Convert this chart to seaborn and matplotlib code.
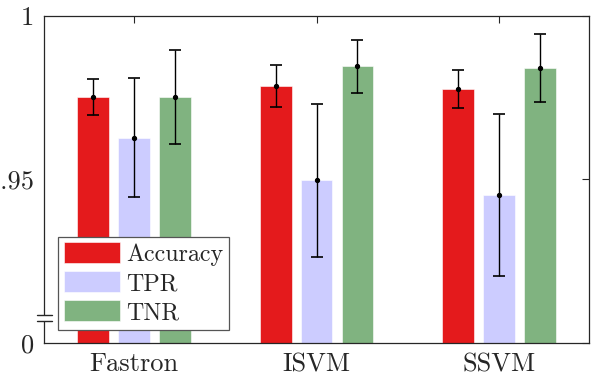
import numpy as np
import pandas as pd
import matplotlib
matplotlib.use("Agg")
import matplotlib.pyplot as plt
import seaborn as sns

models = ["Fastron", "ISVM", "SSVM"]
metrics = ["Accuracy", "TPR", "TNR"]
accuracy = [0.9752, 0.9786, 0.9778]
tpr = [0.9628, 0.9497, 0.9452]
tnr = [0.9752, 0.9846, 0.9841]
accuracy_err = [0.0055, 0.0063, 0.0058]
tpr_err = [0.0183, 0.0235, 0.0247]
tnr_err = [0.0143, 0.0080, 0.0104]
ytick_vals = [0.90, 0.95, 1.0]
ytick_labels = ["0", "0.95", "1"]

colors = ["#E41A1C", "#CCCCFF", "#80B380"]

df = pd.DataFrame({
    "model": models * 3,
    "metric": np.repeat(metrics, 3),
    "value": accuracy + tpr + tnr,
    "err": accuracy_err + tpr_err + tnr_err,
})

sns.set_style("white")
plt.rcParams["font.family"] = ["cmr10", "DejaVu Serif"]
plt.rcParams["axes.formatter.use_mathtext"] = True

fig = plt.figure(figsize=(5.98, 3.79), dpi=100)
ax = fig.add_axes([0.0736, 0.095, 0.9114, 0.8628])

sns.barplot(data=df, x="model", y="value", hue="metric", order=models,
            hue_order=metrics, palette=colors, width=0.672, gap=0.22,
            errorbar=None, saturation=1, ax=ax, edgecolor="white",
            linewidth=0.4, legend=True)

# error bars with mean dot, centered on the bars
for cont, m in zip(ax.containers, metrics):
    sub = df[df["metric"] == m].set_index("model").loc[models]
    xs = [p.get_x() + p.get_width() / 2 for p in cont.patches]
    ax.errorbar(xs, sub["value"], yerr=sub["err"], fmt="o", color="black",
                ms=2.8, elinewidth=1, capsize=4, capthick=1.2, zorder=5)

ax.set_ylim(0.9, 1.0)
ax.set_xlim(-0.49, 2.49)
ax.set_yticks(ytick_vals)
ax.set_yticklabels(ytick_labels)
ax.set_xlabel("")
ax.set_ylabel("")
ax.tick_params(axis="both", direction="in", length=5, width=0.8,
               labelsize=19, top=True, right=True, color="#262626",
               pad=7)
for s in ax.spines.values():
    s.set_color("#262626")
    s.set_linewidth(0.9)
    s.set_visible(True)

# axis break marker near zero
ax.add_patch(plt.Rectangle((-0.02, 0.068), 0.04, 0.017, transform=ax.transAxes,
                           facecolor="white", edgecolor="none", clip_on=False,
                           zorder=10))
for yb in (0.0856, 0.067):
    ax.plot([-0.013, 0.015], [yb, yb], transform=ax.transAxes, color="#262626",
            lw=1, clip_on=False, zorder=11)

leg = ax.legend(loc="lower left", bbox_to_anchor=(0.026, 0.04), fontsize=17.3,
                frameon=True, fancybox=False, edgecolor="#555555",
                framealpha=1, handlelength=2.35, handleheight=0.96,
                labelspacing=0.22, borderpad=0.24, handletextpad=0.24,
                borderaxespad=0)
leg.get_frame().set_linewidth(0.9)

fig.savefig("out.png", dpi=100)
